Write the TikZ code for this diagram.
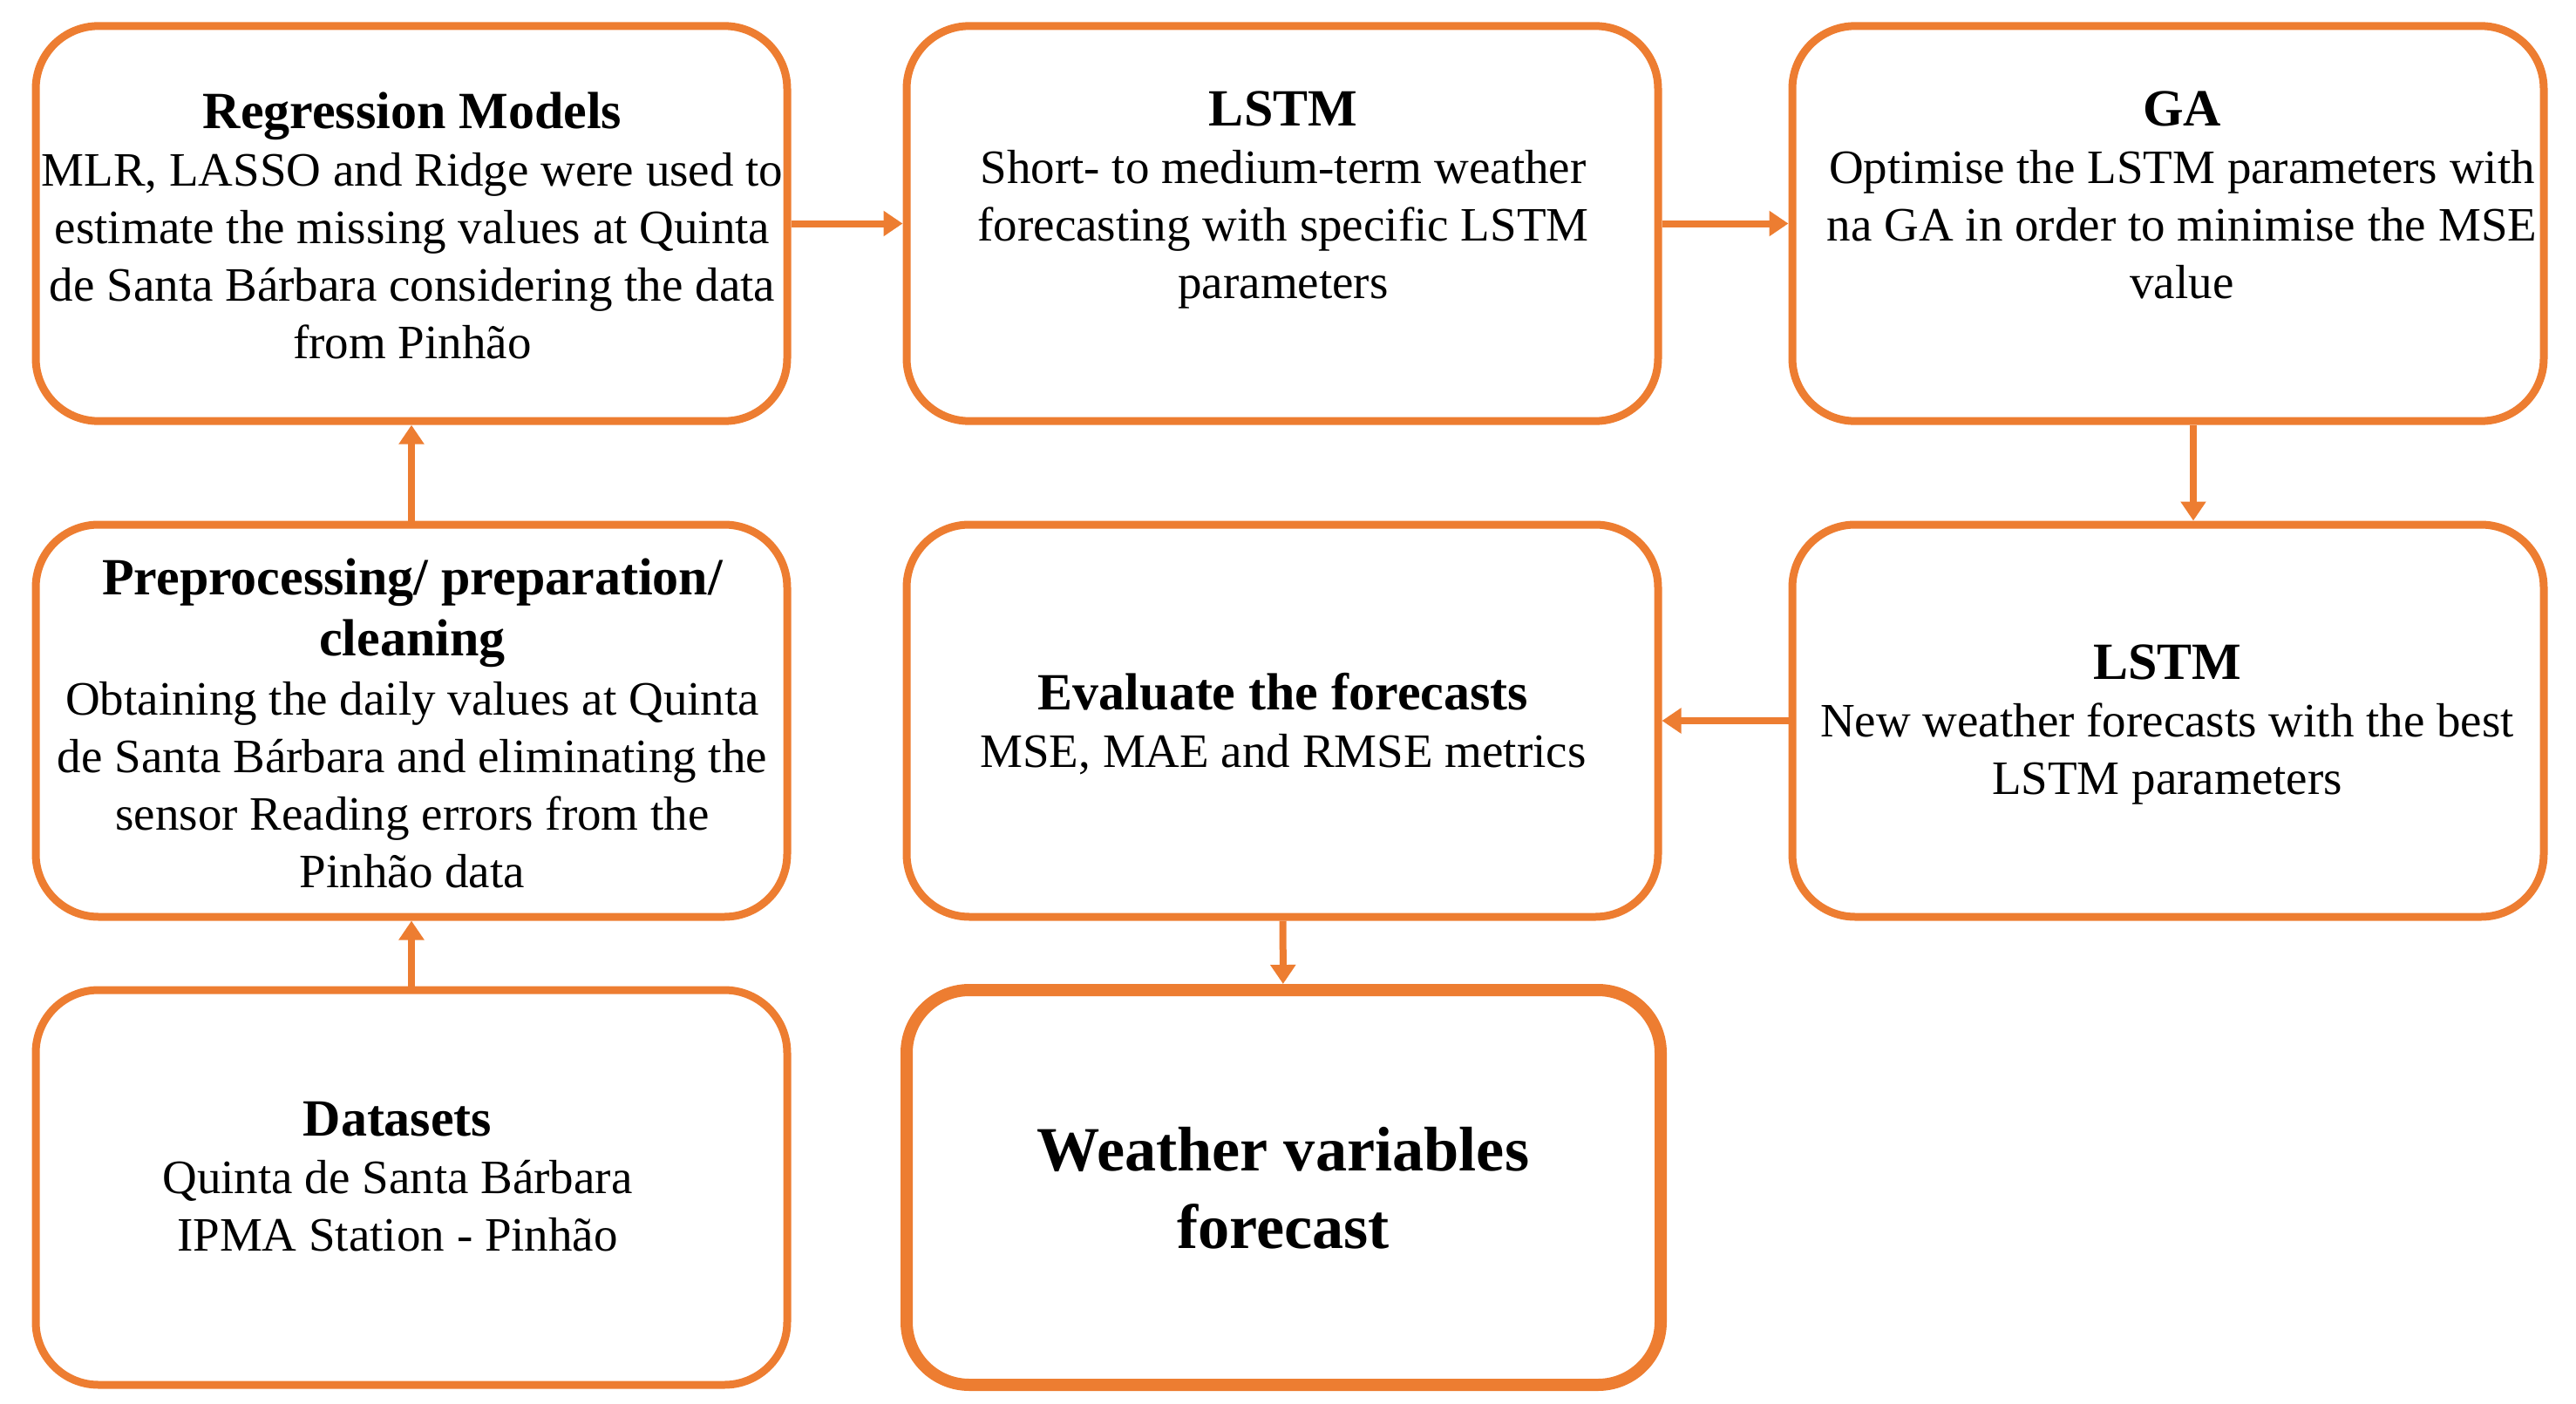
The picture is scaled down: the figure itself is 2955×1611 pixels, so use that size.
\documentclass[tikz,border=0pt]{standalone}
\usepackage{fontspec}
\setmainfont{Liberation Serif}
\usetikzlibrary{arrows.meta,calc}
\definecolor{org}{HTML}{ED7D31}
\tikzset{
  box/.style={draw=org, line width=2.7pt, rounded corners=21.6pt, rectangle, inner sep=0pt,
    minimum width=258.6pt, minimum height=136pt},
  bigbox/.style={box, line width=4.2pt, minimum width=259.5pt},
  txt/.style={align=center, inner sep=0pt, font=\fontsize{16.5}{19.8}\selectfont},
  arr/.style={draw=org, line width=2.4pt, -{Triangle[length=6.6pt,width=8.4pt]}},
}
\newcommand{\ttl}[1]{{\fontsize{18}{21}\selectfont\bfseries #1}}
\begin{document}
\begin{tikzpicture}[x=0.3pt,y=-0.3pt]
\useasboundingbox (0,0) rectangle (2955,1611);
% boxes
\node[box] (b1) at (472,256.5) {};
\node[box] (b2) at (1471,256.5) {};
\node[box] (b3) at (2487,256.5) {};
\node[box, minimum height=135pt] (b4) at (472,827) {};
\node[box, minimum height=135pt] (b5) at (1471,827) {};
\node[box, minimum height=135pt] (b6) at (2487,827) {};
\node[box, minimum height=135.9pt] (b7) at (472,1362.5) {};
\node[bigbox, minimum height=135.9pt] (b8) at (1472.5,1362.5) {};
% texts
\node[txt] (t1) at (473,259) {\ttl{Regression Models}\\MLR, LASSO and Ridge were used to\\estimate the missing values at Quinta\\de Santa Bárbara considering the data\\from Pinhão};
\node[txt] (t2) at (1472,229) {\ttl{LSTM}\\Short- to medium-term weather\\forecasting with specific LSTM\\parameters};
\node[txt] (t3) at (2503,224) {\ttl{GA}\\Optimise the LSTM parameters with\\na GA in order to minimise the MSE\\value};
\node[txt] (t4) at (473,830) {\ttl{Preprocessing/ preparation/}\\[1.1pt]\ttl{cleaning}\\[0.6pt]Obtaining the daily values at Quinta\\de Santa Bárbara and eliminating the\\sensor Reading errors from the\\Pinhão data};
\node[txt] (t5) at (1472,831) {\ttl{Evaluate the forecasts}\\MSE, MAE and RMSE metrics};
\node[txt] (t6) at (2486,831) {\ttl{LSTM}\\New weather forecasts with the best\\LSTM parameters};
\node[txt] (t7) at (456,1350) {\ttl{Datasets}\\Quinta de Santa Bárbara\\IPMA Station - Pinhão};
\node[txt, font=\fontsize{21.7}{26.6}\selectfont\bfseries] (t8) at (1472,1363) {Weather variables\\forecast};
% arrows
\draw[arr] (b1) -- (b2);
\draw[arr] (b2) -- (b3);
\coordinate (a36) at (2516,485);
\draw[arr] (b3.south -| a36) -- (b6.north -| a36);
\draw[arr] (b6) -- (b5);
\draw[arr] (b5) -- (b8);
\draw[arr] (b7) -- (b4);
\draw[arr] (b4) -- (b1);
\end{tikzpicture}
\end{document}
